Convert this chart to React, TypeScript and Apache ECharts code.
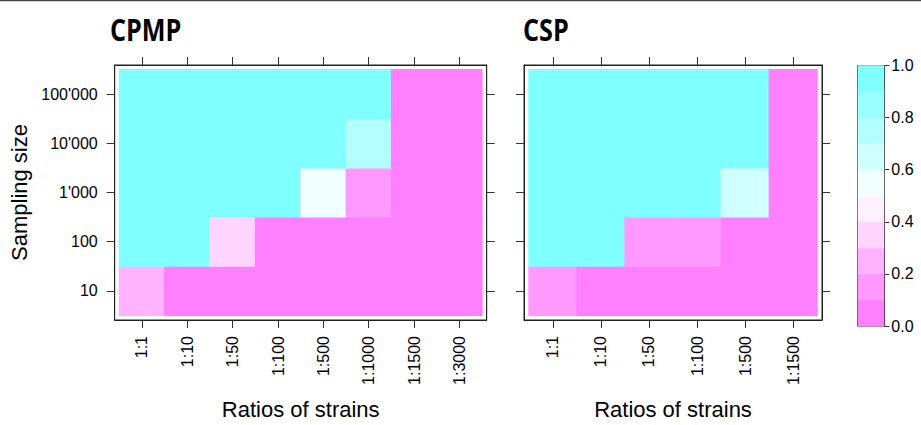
import React, { useEffect, useRef } from "react";
import * as echarts from "echarts";

const CPMP_COLS = ["1:1", "1:10", "1:50", "1:100", "1:500", "1:1000", "1:1500", "1:3000"];
const CSP_COLS = ["1:1", "1:10", "1:50", "1:100", "1:500", "1:1500"];
const SIZES = ["10", "100", "1'000", "10'000", "100'000"];

// rows ordered by sampling size (10 .. 100'000)
const CPMP_10 = [0.25, 0.04, 0.02, 0.01, 0.0, 0.0, 0.0, 0.0];
const CPMP_100 = [0.96, 0.93, 0.35, 0.06, 0.02, 0.01, 0.0, 0.0];
const CPMP_1000 = [1.0, 1.0, 0.99, 0.95, 0.55, 0.15, 0.03, 0.0];
const CPMP_10000 = [1.0, 1.0, 1.0, 1.0, 0.98, 0.75, 0.05, 0.01];
const CPMP_100000 = [1.0, 1.0, 1.0, 1.0, 1.0, 0.97, 0.08, 0.02];

const CSP_10 = [0.15, 0.03, 0.01, 0.0, 0.0, 0.0];
const CSP_100 = [0.95, 0.92, 0.15, 0.12, 0.04, 0.0];
const CSP_1000 = [1.0, 1.0, 0.98, 0.96, 0.65, 0.02];
const CSP_10000 = [1.0, 1.0, 1.0, 1.0, 0.97, 0.05];
const CSP_100000 = [1.0, 1.0, 1.0, 1.0, 1.0, 0.07];

const BAND_BREAKS = [0, 0.1, 0.2, 0.3, 0.4, 0.5, 0.6, 0.7, 0.8, 0.9, 1.0];
const BAND_COLORS = [
  "#FF80FF", "#FF99FF", "#FFB3FF", "#FFD4FF", "#FFF0FF",
  "#F0FFFF", "#D0FFFF", "#B3FFFF", "#99FFFF", "#80FFFF",
];
const COLORBAR_TICKS = [0, 0.2, 0.4, 0.6, 0.8, 1.0];

const FONT = "'Liberation Sans', Arial, Helvetica, sans-serif";
const TICK_COLOR = "#333";

function toCells(rows: number[][]) {
  const out: number[][] = [];
  rows.forEach((row, yi) => row.forEach((v, xi) => out.push([xi, yi, v])));
  return out;
}

// small overlap so adjacent cells leave no anti-aliased seam
const SEAM = 1;

const cellRender = (params: any, api: any) => {
  const x = api.value(0);
  const y = api.value(1);
  const p0 = api.coord([x - 0.5, y + 0.5]);
  const p1 = api.coord([x + 0.5, y - 0.5]);
  return {
    type: "rect",
    shape: {
      x: p0[0] - SEAM / 2,
      y: p0[1] - SEAM / 2,
      width: p1[0] - p0[0] + SEAM,
      height: p1[1] - p0[1] + SEAM,
    },
    style: { fill: api.visual("color") },
  };
};

const bandRender = (params: any, api: any) => {
  const lo = api.value(0);
  const hi = api.value(1);
  const p0 = api.coord([0, hi]);
  const p1 = api.coord([1, lo]);
  return {
    type: "rect",
    shape: { x: p0[0], y: p0[1] - 0.3, width: p1[0] - p0[0], height: p1[1] - p0[1] + 0.6 },
    style: { fill: api.visual("color") },
  };
};

function idx(n: number) {
  const a: number[] = [];
  for (let i = 0; i < n; i++) a.push(i);
  return a;
}

export default function App() {
  const ref = useRef<HTMLDivElement>(null);
  useEffect(() => {
    if (!ref.current) return;
    const chart = echarts.init(ref.current, undefined, { renderer: "svg" });

    const cpmpData = toCells([CPMP_10, CPMP_100, CPMP_1000, CPMP_10000, CPMP_100000]);
    const cspData = toCells([CSP_10, CSP_100, CSP_1000, CSP_10000, CSP_100000]);
    const bandData = BAND_COLORS.map((_, i) => [
      BAND_BREAKS[i],
      BAND_BREAKS[i + 1],
      (BAND_BREAKS[i] + BAND_BREAKS[i + 1]) / 2,
    ]);

    const pieces = BAND_COLORS.map((c, i) =>
      i === BAND_COLORS.length - 1
        ? { gte: BAND_BREAKS[i], lte: BAND_BREAKS[i + 1], color: c }
        : { gte: BAND_BREAKS[i], lt: BAND_BREAKS[i + 1], color: c }
    );

    const tickStyle = { show: true, length: 8, inside: false, lineStyle: { color: TICK_COLOR, width: 1 } };
    const lineStyle = { show: true, onZero: false, lineStyle: { color: "#222", width: 1 } };
    const labelBase = { color: "#000", fontFamily: FONT, fontSize: 16 };
    const nameStyle = { color: "#000", fontFamily: FONT, fontSize: 22 };

    const xBottom = (grid: number, cols: string[], withName: boolean) => ({
      type: "value",
      gridIndex: grid,
      position: "bottom",
      min: -0.6,
      max: cols.length - 0.4,
      axisLine: lineStyle,
      axisTick: { ...tickStyle, customValues: idx(cols.length) },
      axisLabel: {
        ...labelBase,
        customValues: idx(cols.length),
        rotate: 90,
        margin: 16,
        formatter: (v: number) => cols[Math.round(v)] ?? "",
      },
      splitLine: { show: false },
      name: withName ? "Ratios of strains" : "",
      nameLocation: "middle",
      nameGap: 78,
      nameTextStyle: nameStyle,
    });
    const xTop = (grid: number, cols: string[]) => ({
      type: "value",
      gridIndex: grid,
      position: "top",
      min: -0.6,
      max: cols.length - 0.4,
      axisLine: lineStyle,
      axisTick: { ...tickStyle, customValues: idx(cols.length) },
      axisLabel: { show: false },
      splitLine: { show: false },
    });
    const yAxisFor = (grid: number, pos: string, labels: boolean, name: string) => ({
      type: "value",
      gridIndex: grid,
      position: pos,
      min: -0.59,
      max: SIZES.length - 0.41,
      axisLine: lineStyle,
      axisTick: { ...tickStyle, customValues: idx(SIZES.length) },
      axisLabel: labels
        ? {
            ...labelBase,
            customValues: idx(SIZES.length),
            margin: 17,
            formatter: (v: number) => SIZES[Math.round(v)] ?? "",
          }
        : { show: false },
      splitLine: { show: false },
      name,
      nameLocation: "middle",
      nameGap: 84,
      nameTextStyle: nameStyle,
    });

    const gridBox = { show: true, borderColor: "#222", borderWidth: 1, backgroundColor: "transparent", containLabel: false };

    chart.setOption({
      animation: false,
      backgroundColor: "#fff",
      grid: [
        { ...gridBox, left: 114.7, top: 65, width: 372, height: 261 },
        { ...gridBox, left: 524, top: 65, width: 298, height: 261 },
        { ...gridBox, left: 857.7, top: 65.5, width: 26.6, height: 260.5 },
      ],
      xAxis: [
        xBottom(0, CPMP_COLS, true),
        xTop(0, CPMP_COLS),
        xBottom(1, CSP_COLS, true),
        xTop(1, CSP_COLS),
        { type: "value", gridIndex: 2, min: 0, max: 1, show: false },
      ],
      yAxis: [
        yAxisFor(0, "left", true, "Sampling size"),
        yAxisFor(0, "right", false, ""),
        yAxisFor(1, "left", false, ""),
        yAxisFor(1, "right", false, ""),
        {
          type: "value",
          gridIndex: 2,
          position: "right",
          min: 0,
          max: 1,
          axisLine: lineStyle,
          axisTick: { show: true, length: 5, lineStyle: { color: TICK_COLOR }, customValues: COLORBAR_TICKS },
          axisLabel: {
            ...labelBase,
            margin: 7,
            customValues: COLORBAR_TICKS,
            formatter: (v: number) => v.toFixed(1),
          },
          splitLine: { show: false },
        },
      ],
      visualMap: {
        type: "piecewise",
        show: false,
        dimension: 2,
        seriesIndex: [0, 1, 2],
        pieces,
      },
      series: [
        {
          type: "custom",
          xAxisIndex: 0,
          yAxisIndex: 0,
          renderItem: cellRender,
          encode: { x: 0, y: 1 },
          data: cpmpData,
        },
        {
          type: "custom",
          xAxisIndex: 2,
          yAxisIndex: 2,
          renderItem: cellRender,
          encode: { x: 0, y: 1 },
          data: cspData,
        },
        {
          type: "custom",
          xAxisIndex: 4,
          yAxisIndex: 4,
          renderItem: bandRender,
          encode: { y: [0, 1] },
          data: bandData,
        },
      ],
      graphic: [
        {
          type: "line",
          shape: { x1: 0, y1: 0.5, x2: 921, y2: 0.5 },
          style: { stroke: "#444", lineWidth: 1.5 },
        },
        {
          type: "text",
          x: 110,
          y: 29,
          scaleX: 0.84,
          style: {
            text: "CPMP",
            fill: "#000",
            font: "bold 30px 'Open Sans', sans-serif",
            verticalAlign: "middle",
          },
        },
        {
          type: "text",
          x: 523,
          y: 29,
          scaleX: 0.84,
          style: {
            text: "CSP",
            fill: "#000",
            font: "bold 30px 'Open Sans', sans-serif",
            verticalAlign: "middle",
          },
        },
      ],
    });
    return () => chart.dispose();
  }, []);

  return (
    <div
      ref={ref}
      style={{ position: "fixed", left: 0, top: 0, width: 921, height: 425, background: "#fff" }}
    />
  );
}
